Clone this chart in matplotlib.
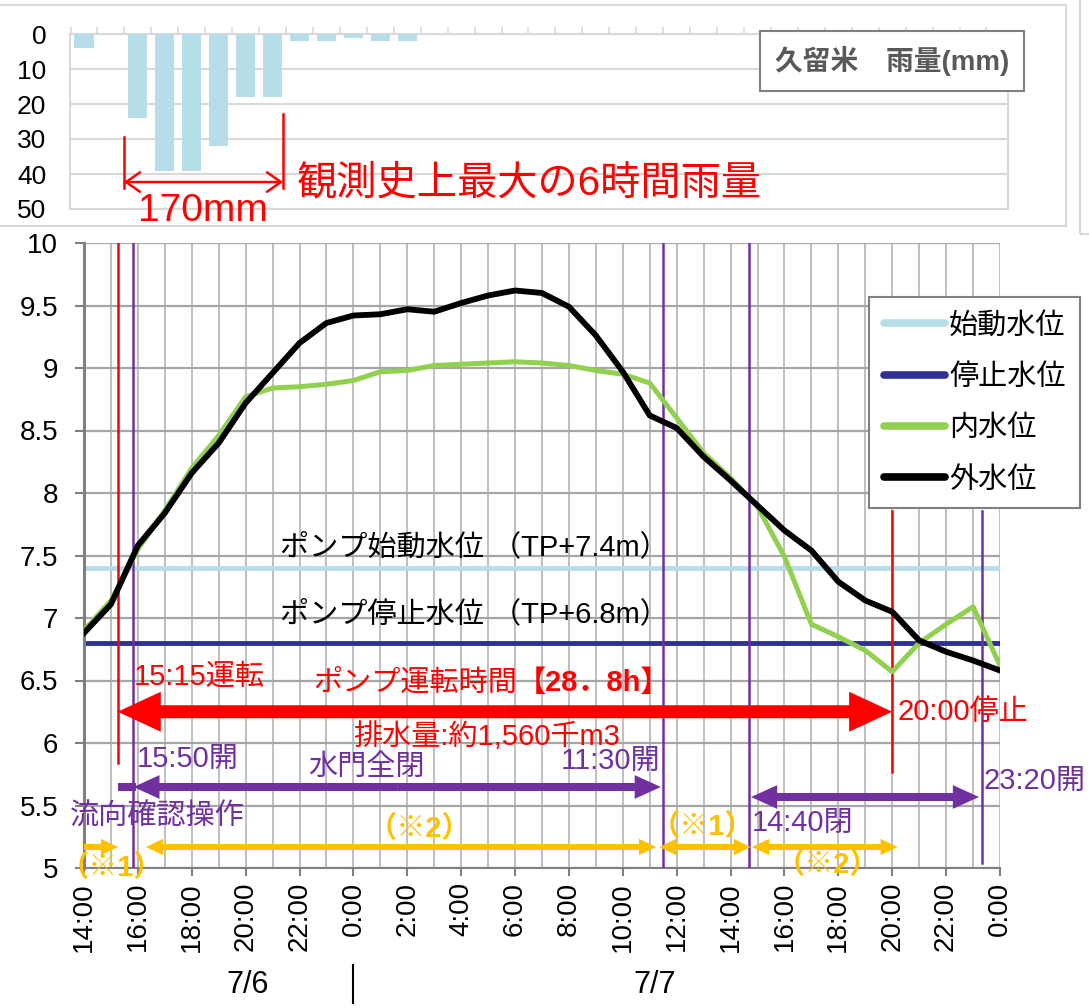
import numpy as np
import matplotlib
matplotlib.use("Agg")
import matplotlib.pyplot as plt
from matplotlib.patches import FancyArrow, Rectangle
from matplotlib.lines import Line2D

plt.rcParams['font.family'] = ['Liberation Sans', 'Noto Sans CJK JP']

# 7/6 14:00 から 7/8 0:00 まで（1時間ごと、14:00 を 0 とする）
hours = np.arange(35)
tick_hours = np.arange(0, 35, 2)
tick_labels = ['14:00', '16:00', '18:00', '20:00', '22:00', '0:00', '2:00', '4:00',
               '6:00', '8:00', '10:00', '12:00', '14:00', '16:00', '18:00', '20:00',
               '22:00', '0:00']

# 久留米 時間雨量 (mm)
rain = [4, 0, 24, 39, 39, 32, 18, 18, 2, 2, 1, 2, 2, 0, 0, 0, 0, 0,
        0, 0, 0, 0, 0, 0, 0, 0, 0, 0, 0, 0, 0, 0, 0, 0, 0]

# 水位 (TP m)
inner = [6.90, 7.14, 7.55, 7.86, 8.20, 8.46, 8.77, 8.84, 8.85, 8.87, 8.90, 8.97,
         8.98, 9.02, 9.03, 9.04, 9.05, 9.04, 9.02, 8.98, 8.95, 8.88, 8.60, 8.32,
         8.12, 7.89, 7.49, 6.95, 6.85, 6.74, 6.57, 6.80, 6.95, 7.09, 6.62]
outer = [6.88, 7.11, 7.58, 7.84, 8.16, 8.40, 8.72, 8.96, 9.20, 9.36, 9.42, 9.43,
         9.47, 9.45, 9.52, 9.58, 9.62, 9.60, 9.49, 9.26, 8.97, 8.62, 8.52, 8.29,
         8.10, 7.90, 7.70, 7.54, 7.29, 7.14, 7.05, 6.82, 6.73, 6.66, 6.58]
start_level = 7.4
stop_level = 6.8

# 操作時刻（14:00 からの時間）
pump_on = 1.25      # 15:15
gate_1 = 1.833      # 15:50
gate_2 = 21.5       # 11:30
gate_3 = 24.667     # 14:40
pump_off = 30.0     # 20:00
gate_4 = 33.333     # 23:20

RED = '#FF0000'
PURPLE = '#7030A0'
YELLOW = '#FFC000'

W, H = 1089, 1008
fig = plt.figure(figsize=(W / 100, H / 100), dpi=100)

# 外枠
fig.add_artist(Rectangle((-0.01, 1 - 226 / H), 1077 / W, 221 / H, transform=fig.transFigure,
                         fill=False, ec='#D9D9D9', lw=1.5))
fig.add_artist(Rectangle((1080 / W, 1 - 234 / H), 0.1, 0.3, transform=fig.transFigure,
                         fill=False, ec='#D9D9D9', lw=1.5))

# ---- 雨量 ----
axr = fig.add_axes([70 / W, 1 - 209 / H, 938 / W, 175 / H])
axr.bar(hours, rain, width=0.71, color='#B7DEE8', zorder=3)
axr.set_xlim(-0.52, 34.3)
axr.set_ylim(50, 0)
axr.set_yticks([0, 10, 20, 30, 40, 50])
axr.yaxis.grid(True, color='#D9D9D9', lw=1.5)
axr.set_axisbelow(True)
axr.xaxis.tick_top()
axr.set_xticks(np.arange(-0.5, 34.5, 1))
axr.set_xticklabels([])
axr.tick_params(axis='x', length=5, width=1.2, color='#D9D9D9', direction='out')
axr.tick_params(axis='y', length=0, pad=17, labelsize=19)
for s in axr.spines.values():
    s.set_color('#D9D9D9')
    s.set_linewidth(1.5)

axr.plot([1.48, 1.48], [29.4, 44], color=RED, lw=1.8)
axr.plot([7.39, 7.39], [22.9, 44], color=RED, lw=1.8)
axr.annotate('', xy=(1.48, 42.3), xytext=(7.39, 42.3),
             arrowprops=dict(arrowstyle='<->,head_length=0.5,head_width=0.35', color=RED,
                             lw=1.8, shrinkA=0, shrinkB=0, mutation_scale=20))
axr.text(4.4, 50.6, '170mm', color=RED, fontsize=28, ha='center', va='center', clip_on=False)
axr.text(7.9, 42.6, '観測史上最大の6時間雨量', color=RED, fontsize=29, ha='left', va='center')

fig.text(892 / W, 1 - 61 / H, '久留米　雨量(mm)', ha='center', va='center', fontsize=20,
         fontweight='bold', color='#595959',
         bbox=dict(boxstyle='square,pad=0.55', fc='white', ec='#7F7F7F', lw=1.5))

# ---- 水位 ----
ax = fig.add_axes([84 / W, 1 - 868 / H, 916 / W, 625 / H])
l1 = ax.axhline(start_level, color='#B7DEE8', lw=3.5, zorder=2, label='始動水位')
l2 = ax.axhline(stop_level, color='#2E3192', lw=3.5, zorder=2, label='停止水位')
l3, = ax.plot(hours, inner, color='#92D050', lw=3.6, zorder=4, label='内水位')
l4, = ax.plot(hours, outer, color='black', lw=4.2, zorder=4, label='外水位')

ax.set_xlim(0, 34)
ax.set_ylim(5, 10)
ax.set_yticks(np.arange(5, 10.01, 0.5))
ax.set_yticklabels(['5', '5.5', '6', '6.5', '7', '7.5', '8', '8.5', '9', '9.5', '10'])
ax.set_xticks(tick_hours)
ax.set_xticklabels(tick_labels, rotation=90)
ax.set_xticks(hours, minor=True)
ax.tick_params(axis='x', which='major', length=6, width=1.5, color='#808080', pad=4, labelsize=20)
ax.tick_params(axis='x', which='minor', length=0)
ax.tick_params(axis='y', length=6.5, width=1.5, color='#808080', pad=12, labelsize=20)
ax.grid(axis='x', which='both', color='#BFBFBF', lw=1.4)
ax.grid(axis='y', which='major', color='#A6A6A6', lw=1.6)
ax.set_axisbelow(True)
ax.spines['top'].set_visible(False)
ax.spines['right'].set_visible(False)
ax.spines['left'].set_color('#808080')
ax.spines['left'].set_linewidth(2.2)
ax.spines['bottom'].set_color('#808080')
ax.spines['bottom'].set_linewidth(1.5)

# 縦線
ax.plot([pump_on, pump_on], [10, 5.84], color=RED, lw=1.8, zorder=3)
ax.plot([pump_off, pump_off], [7.86, 5.77], color=RED, lw=1.8, zorder=3)
ax.plot([gate_1, gate_1], [10, 5.02], color=PURPLE, lw=1.8, zorder=3)
ax.plot([gate_2, gate_2], [10, 5], color=PURPLE, lw=1.8, zorder=3)
ax.plot([gate_3, gate_3], [10, 5], color=PURPLE, lw=1.8, zorder=3)
ax.plot([gate_4, gate_4], [7.86, 5.04], color=PURPLE, lw=1.8, zorder=3)


def harrow(x0, x1, y, color, width, hw, hl, both=True):
    kw = dict(width=width, head_width=hw, head_length=hl, length_includes_head=True,
              color=color, lw=0, zorder=5, clip_on=False)
    if both:
        m = (x0 + x1) / 2
        ax.add_patch(FancyArrow(m, y, x1 - m, 0, **kw))
        ax.add_patch(FancyArrow(m, y, x0 - m, 0, **kw))
    else:
        ax.add_patch(FancyArrow(x0, y, x1 - x0, 0, **kw))


harrow(pump_on, pump_off, 6.25, RED, 0.104, 0.32, 1.6)
ax.plot([pump_on, gate_1 + 0.1], [5.648, 5.648], color=PURPLE, lw=5.8,
        solid_capstyle='butt', zorder=5)
harrow(gate_1, 21.41, 5.648, PURPLE, 0.064, 0.19, 0.97)
harrow(24.76, 33.22, 5.568, PURPLE, 0.064, 0.19, 0.97)
harrow(0, 1.26, 5.168, YELLOW, 0.048, 0.13, 0.63, both=False)
harrow(2.3, 21.23, 5.168, YELLOW, 0.048, 0.13, 0.63)
harrow(21.35, 24.75, 5.168, YELLOW, 0.048, 0.13, 0.63)
harrow(24.8, 30.2, 5.168, YELLOW, 0.048, 0.13, 0.63)

# 文字
fs = 21
ax.text(14.5, 7.57, 'ポンプ始動水位 （TP+7.4m）', fontsize=fs, ha='center', va='center', zorder=6)
ax.text(14.5, 7.03, 'ポンプ停止水位 （TP+6.8m）', fontsize=fs, ha='center', va='center', zorder=6)
ax.text(1.86, 6.53, '15:15運転', color=RED, fontsize=fs, ha='left', va='center', zorder=6)
t1 = ax.text(8.5, 6.48, 'ポンプ運転時間', color=RED, fontsize=fs, ha='left', va='center', zorder=6)
ax.annotate('【28．8h】', xy=(1, 0), xycoords=t1, ha='left', va='bottom', color=RED,
            fontsize=fs, fontweight='bold', zorder=6)
ax.text(14.95, 6.05, '排水量:約1,560千m3', color=RED, fontsize=fs, ha='center', va='center', zorder=6)
ax.text(30.2, 6.25, '20:00停止', color=RED, fontsize=fs, ha='left', va='center', zorder=6)
ax.text(1.97, 5.87, '15:50開', color=PURPLE, fontsize=fs, ha='left', va='center', zorder=6)
ax.text(10.5, 5.81, '水門全閉', color=PURPLE, fontsize=fs, ha='center', va='center', zorder=6)
ax.text(21.4, 5.86, '11:30開', color=PURPLE, fontsize=fs, ha='right', va='center', zorder=6)
ax.text(33.4, 5.70, '23:20開', color=PURPLE, fontsize=fs, ha='left', va='center', zorder=6)
ax.text(24.8, 5.36, '14:40閉', color=PURPLE, fontsize=fs, ha='left', va='center', zorder=6)
ax.text(2.72, 5.41, '流向確認操作', color=PURPLE, fontsize=fs, ha='center', va='center', zorder=6)
ax.text(1.0, 5.0, '（※1）', color=YELLOW, fontsize=fs, fontweight='bold', ha='center', va='center', zorder=6)
ax.text(12.45, 5.31, '（※2）', color=YELLOW, fontsize=fs, fontweight='bold', ha='center', va='center', zorder=6)
ax.text(22.95, 5.33, '（※1）', color=YELLOW, fontsize=fs, fontweight='bold', ha='center', va='center', zorder=6)
ax.text(27.6, 5.02, '（※2）', color=YELLOW, fontsize=fs, fontweight='bold', ha='center', va='center', zorder=6)

leg = ax.legend(handles=[l1, l2, l3, l4], loc='upper left', bbox_to_anchor=(869 / W, 1 - 297 / H),
                bbox_transform=fig.transFigure, fontsize=21, frameon=True, fancybox=False,
                edgecolor='#808080', framealpha=1, handlelength=2.1, handletextpad=0.15,
                labelspacing=0.8, borderpad=0.5, borderaxespad=0)
leg.get_frame().set_linewidth(1.5)
leg.set_zorder(10)
for h in leg.get_lines():
    h.set_linewidth(5.5)
    h.set_solid_capstyle('round')

# 日付
fig.text(248 / W, 1 - 985 / H, '7/6', ha='center', va='center', fontsize=22)
fig.text(655 / W, 1 - 985 / H, '7/7', ha='center', va='center', fontsize=22)
fig.add_artist(Line2D([353 / W, 353 / W], [1 - 1003 / H, 1 - 965 / H], color='black', lw=1.5))

fig.savefig('out.png', dpi=100)
